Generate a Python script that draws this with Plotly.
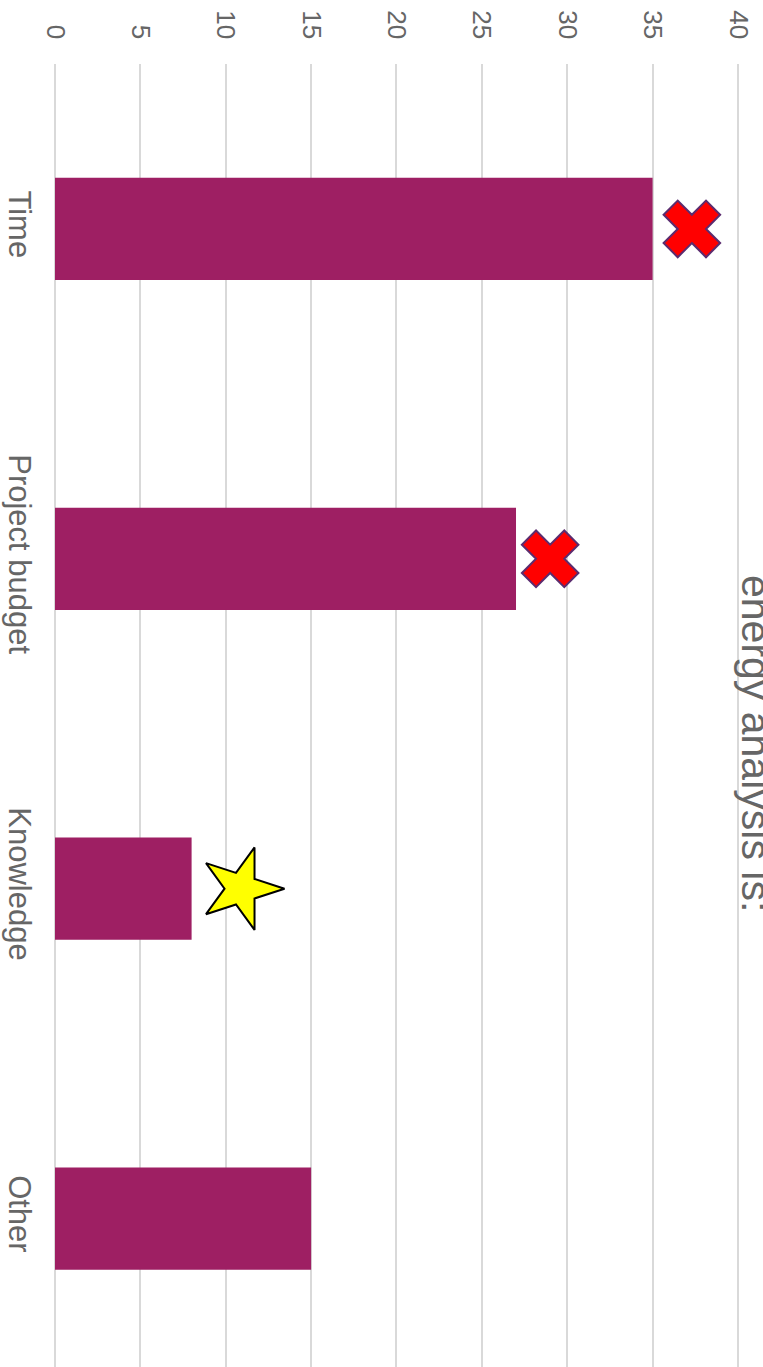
import plotly.graph_objects as go

# Survey answers: barriers to energy analysis
categories = ["Time", "Project budget", "Knowledge", "Other"]
responses = [35, 27, 8, 15]

# Callout markers placed beside selected bars
cross_categories = ["Time", "Project budget"]
cross_values = [37.3, 29.0]
star_categories = ["Knowledge"]
star_values = [10.9]

value_ticks = [0, 5, 10, 15, 20, 25, 30, 35, 40]
title_text = "energy analysis is:"

W, H = 763, 1367
ML, MR, MT, MB = 55, 24, 64, 0
FONT = "Arial, Liberation Sans, sans-serif"
TEXT_GREY = "#666666"
BAR_COLOR = "#9E1F63"
GRID = "#d9d9d9"

fig = go.Figure()

fig.add_trace(go.Bar(
    x=responses,
    y=categories,
    orientation="h",
    width=0.31,
    marker=dict(color=BAR_COLOR, line=dict(width=0)),
    showlegend=False,
    hoverinfo="skip",
))

fig.add_trace(go.Scatter(
    x=cross_values,
    y=cross_categories,
    mode="markers",
    marker=dict(symbol="x", size=50, color="#FF0000",
                line=dict(color="#5B2C6F", width=2)),
    showlegend=False,
    hoverinfo="skip",
))

fig.add_trace(go.Scatter(
    x=star_values,
    y=star_categories,
    mode="markers",
    marker=dict(symbol="star", size=62, angle=90, color="#FFFF00",
                line=dict(color="#000000", width=2)),
    showlegend=False,
    hoverinfo="skip",
))

plot_w = W - ML - MR
title_px = 731
fig.add_annotation(
    text=title_text,
    xref="paper", yref="paper",
    x=(title_px - ML) / plot_w, y=1 - (743 - MT) / (H - MT - MB),
    xanchor="left", yanchor="middle",
    textangle=90,
    showarrow=False,
    font=dict(family=FONT, size=41, color=TEXT_GREY),
)

fig.update_layout(
    template="none",
    width=W, height=H,
    margin=dict(l=ML, r=MR, t=MT, b=MB, pad=0),
    paper_bgcolor="white",
    plot_bgcolor="white",
    font=dict(family=FONT, color=TEXT_GREY),
    xaxis=dict(
        side="top",
        range=[0, 40.06],
        tickvals=value_ticks,
        ticktext=[str(v) for v in value_ticks],
        tickangle=90,
        tickfont=dict(family=FONT, size=26, color=TEXT_GREY),
        showgrid=True, gridcolor=GRID, gridwidth=1.5,
        zeroline=True, zerolinecolor=GRID, zerolinewidth=1.5,
        showline=False, ticks="",
        ticklabelstandoff=20,
        automargin=False,
        fixedrange=True,
    ),
    yaxis=dict(
        type="category",
        categoryorder="array",
        categoryarray=categories,
        range=[3.45, -0.5],
        tickangle=90,
        tickfont=dict(family=FONT, size=31, color=TEXT_GREY),
        showgrid=False, zeroline=False, showline=False, ticks="",
        ticklabelstandoff=14,
        automargin=False,
        fixedrange=True,
    ),
)

fig.write_html("out.html", config={"displayModeBar": False})
